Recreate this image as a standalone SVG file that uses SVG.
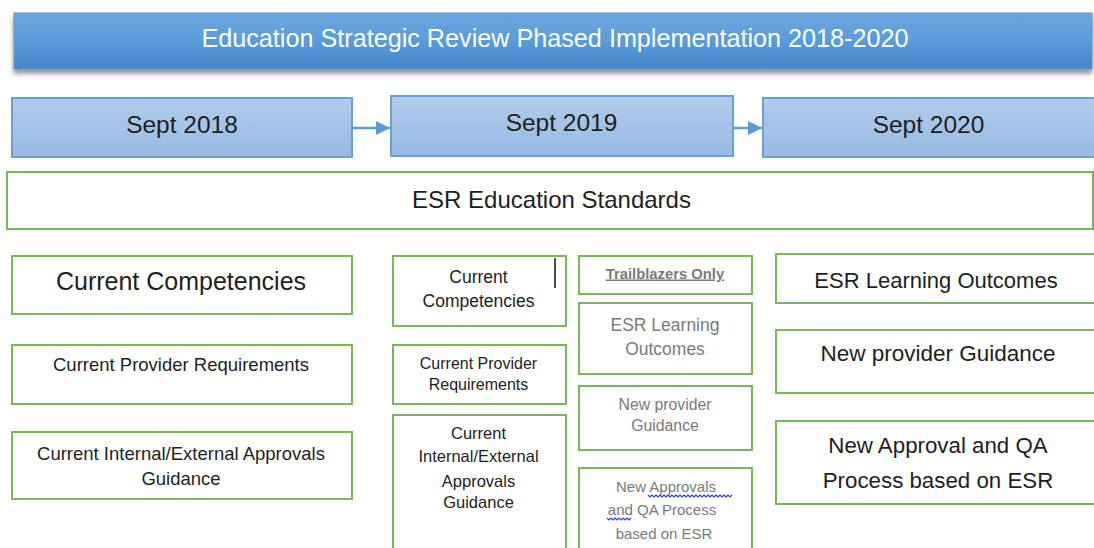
<svg xmlns="http://www.w3.org/2000/svg" width="1094" height="548" viewBox="0 0 1094 548">
<defs>
<linearGradient id="gTitle" x1="0" y1="0" x2="0" y2="1">
<stop offset="0" stop-color="#6fa6dd"/>
<stop offset="0.5" stop-color="#5a9bdb"/>
<stop offset="1" stop-color="#4485c8"/>
</linearGradient>
<linearGradient id="gSept" x1="0" y1="0" x2="0" y2="1">
<stop offset="0" stop-color="#b2cceb"/>
<stop offset="1" stop-color="#97bae3"/>
</linearGradient>
<filter id="shadow" x="-5%" y="-30%" width="110%" height="180%">
<feDropShadow dx="0" dy="4" stdDeviation="2.5" flood-color="#000" flood-opacity="0.45"/>
</filter>
<marker id="arr" viewBox="0 0 10 10" refX="10" refY="5" markerWidth="14" markerHeight="14" markerUnits="userSpaceOnUse" orient="auto">
<path d="M0,0 L10,5 L0,10 z" fill="#5b9bd5"/>
</marker>
</defs>
<style>
text{font-family:"Liberation Sans",Arial,sans-serif;text-anchor:middle}
.box{fill:#fff;stroke:#7cb65a;stroke-width:2}
.sept{fill:url(#gSept);stroke:#6a9fd8;stroke-width:2}
.dk{fill:#1e1e1e}
.gr{fill:#7a7a7a}
.conn{stroke:#5b9bd5;stroke-width:2.5;fill:none}
.wavy{stroke:#2b3ff0;stroke-width:1.2;fill:none}
</style>
<rect width="1094" height="548" fill="#fff"/>

<g id="title">
<rect x="14" y="13" width="1078" height="56" fill="url(#gTitle)" stroke="#5b93cf" stroke-width="1" filter="url(#shadow)"/>
<text x="555" y="47" font-size="25.2" fill="#fff">Education Strategic Review Phased Implementation 2018-2020</text>
</g>

<g id="sept2018">
<rect class="sept" x="12" y="98" width="340" height="59"/>
<text class="dk" x="182" y="132.5" font-size="24.5">Sept 2018</text>
</g>
<g id="sept2019">
<rect class="sept" x="391" y="96" width="342" height="60"/>
<text class="dk" x="561.5" y="130.5" font-size="24.5">Sept 2019</text>
</g>
<g id="sept2020">
<rect class="sept" x="763" y="98" width="334" height="59"/>
<text class="dk" x="928.5" y="132.5" font-size="24.5">Sept 2020</text>
</g>

<g id="connectors">
<line class="conn" x1="352" y1="128" x2="390" y2="128" marker-end="url(#arr)"/>
<line class="conn" x1="733" y1="128" x2="762" y2="128" marker-end="url(#arr)"/>
</g>

<g id="standards">
<rect class="box" x="7" y="172" width="1086" height="57"/>
<text class="dk" x="551.5" y="207.5" font-size="24">ESR Education Standards</text>
</g>

<g id="left-competencies">
<rect class="box" x="12" y="256" width="340" height="58"/>
<text class="dk" x="181" y="289.5" font-size="25">Current Competencies</text>
</g>
<g id="left-provider">
<rect class="box" x="12" y="345" width="340" height="59"/>
<text class="dk" x="181" y="370.5" font-size="18.5">Current Provider Requirements</text>
</g>
<g id="left-approvals">
<rect class="box" x="12" y="432" width="340" height="67"/>
<text class="dk" x="181" y="459.5" font-size="18.5">Current Internal/External Approvals</text>
<text class="dk" x="181" y="484.5" font-size="18.5">Guidance</text>
</g>

<g id="mid-competencies">
<rect class="box" x="393" y="256" width="173" height="70"/>
<text class="dk" x="478.5" y="283.3" font-size="17.5">Current</text>
<text class="dk" x="478.5" y="307.3" font-size="17.5">Competencies</text>
<line x1="555" y1="258" x2="555" y2="288" stroke="#111" stroke-width="1.5"/>
</g>
<g id="mid-provider">
<rect class="box" x="393" y="345" width="173" height="59"/>
<text class="dk" x="478.5" y="368.6" font-size="16">Current Provider</text>
<text class="dk" x="478.5" y="389.6" font-size="16">Requirements</text>
</g>
<g id="mid-approvals">
<rect class="box" x="393" y="415" width="173" height="140"/>
<text class="dk" x="478.5" y="438.6" font-size="16.5">Current</text>
<text class="dk" x="478.5" y="461.6" font-size="16.5">Internal/External</text>
<text class="dk" x="478.5" y="486.6" font-size="16.5">Approvals</text>
<text class="dk" x="478.5" y="507.6" font-size="16.5">Guidance</text>
</g>

<g id="trailblazers">
<rect class="box" x="579" y="256" width="173" height="38"/>
<text class="gr" x="665" y="278.5" font-size="14.8" font-weight="bold" text-decoration="underline">Trailblazers Only</text>
</g>
<g id="tb-outcomes">
<rect class="box" x="579" y="303" width="173" height="71"/>
<text class="gr" x="665" y="331" font-size="17.5">ESR Learning</text>
<text class="gr" x="665" y="355" font-size="17.5">Outcomes</text>
</g>
<g id="tb-guidance">
<rect class="box" x="579" y="386" width="173" height="64"/>
<text class="gr" x="665" y="410.4" font-size="15.8">New provider</text>
<text class="gr" x="665" y="431.4" font-size="15.8">Guidance</text>
</g>
<g id="tb-approvals">
<rect class="box" x="579" y="468" width="173" height="90"/>
<text class="gr" x="666" y="492" font-size="15">New Approvals</text>
<text class="gr" x="662" y="515" font-size="15">and QA Process</text>
<text class="gr" x="664" y="539" font-size="15">based on ESR</text>
<path class="wavy" d="M648,495 l2,2 l2,-2 l2,2 l2,-2 l2,2 l2,-2 l2,2 l2,-2 l2,2 l2,-2 l2,2 l2,-2 l2,2 l2,-2 l2,2 l2,-2 l2,2 l2,-2 l2,2 l2,-2 l2,2 l2,-2 l2,2 l2,-2 l2,2 l2,-2 l2,2 l2,-2 l2,2 l2,-2 l2,2 l2,-2 l2,2 l2,-2 l2,2 l2,-2 l2,2 l2,-2 l2,2 l2,-2 l2,2 l2,-2"/>
<path class="wavy" d="M607,518 l2,2 l2,-2 l2,2 l2,-2 l2,2 l2,-2 l2,2 l2,-2 l2,2 l2,-2 l2,2 l2,-2"/>
</g>

<g id="right-outcomes">
<rect class="box" x="776" y="254" width="321" height="49"/>
<text class="dk" x="936" y="287.7" font-size="22">ESR Learning Outcomes</text>
</g>
<g id="right-guidance">
<rect class="box" x="776" y="330" width="321" height="63"/>
<text class="dk" x="938" y="360.7" font-size="22.5">New provider Guidance</text>
</g>
<g id="right-approvals">
<rect class="box" x="776" y="421" width="321" height="83"/>
<text class="dk" x="938" y="452.7" font-size="22.3">New Approval and QA</text>
<text class="dk" x="938" y="487.7" font-size="22.3">Process based on ESR</text>
</g>
</svg>
